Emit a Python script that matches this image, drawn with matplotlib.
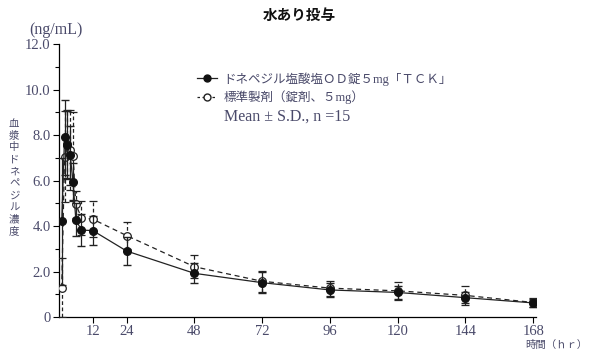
import numpy as np
import matplotlib.pyplot as plt
from matplotlib.lines import Line2D

plt.rcParams['font.family'] = ['Liberation Serif', 'Noto Sans CJK JP', 'DejaVu Sans']

# sampling times (hr)
times = [1, 2, 3, 4, 5, 6, 8, 12, 24, 48, 72, 96, 120, 144, 168]

# ドネペジル塩酸塩OD錠 5mg「TCK」
test_mean = [4.2, 7.9, 7.55, 7.1, 5.95, 4.27, 3.82, 3.8, 2.9, 1.92, 1.51, 1.19, 1.08, 0.85, 0.62]
test_sd = [2.8, 1.65, 1.5, 1.3, 0.8, 0.72, 0.7, 0.65, 0.6, 0.44, 0.45, 0.3, 0.27, 0.25, 0.18]

# 標準製剤 (錠剤、5mg)
ref_mean = [1.28, 7.05, 7.6, 7.35, 7.07, 4.95, 4.36, 4.3, 3.58, 2.21, 1.57, 1.27, 1.15, 0.95, 0.64]
ref_sd = [1.3, 2.0, 1.5, 1.75, 1.95, 0.6, 0.75, 0.8, 0.6, 0.5, 0.45, 0.33, 0.4, 0.43, 0.2]

xticks = [12, 24, 48, 72, 96, 120, 144, 168]
yticks = [0, 2, 4, 6, 8, 10, 12]
ylabels = ['0', '2.0', '4.0', '6.0', '8.0', '10.0', '12.0']

tick_col = '#4a4a6a'

fig = plt.figure(figsize=(5.89, 3.58), dpi=100)
ax = fig.add_axes([0.100, 0.1145, 0.81, 0.7625])

# standard formulation: open circles, dashed line and dashed error bars
eb = ax.errorbar(times, ref_mean, yerr=ref_sd, fmt='o', color='#222222',
                 mfc='white', mec='#222222', ms=5.5, mew=0.9, capsize=3, elinewidth=0.9,
                 ls=(0, (4, 3)), lw=0.9, zorder=3)
eb[2][0].set_linestyle((0, (3, 2)))
# test formulation: filled circles, solid line
ax.errorbar(times, test_mean, yerr=test_sd, fmt='o', color='#222222',
            mfc='#111111', mec='#111111', ms=5.5, capsize=3, elinewidth=0.9,
            ls='-', lw=0.9, zorder=4)

ax.set_xlim(0, 169)
ax.set_ylim(0, 12)
ax.set_xticks(xticks)
ax.set_xticklabels([str(t) for t in xticks], color=tick_col, fontsize=10.5)
ax.set_yticks(yticks)
ax.set_yticklabels(ylabels, color=tick_col, fontsize=10.5)
ax.set_yticks([1, 3, 5, 7, 9, 11], minor=True)
ax.tick_params(axis='both', direction='out', length=4, width=0.8, pad=2)
ax.tick_params(axis='y', which='minor', length=3, width=0.8)
for s in ['top', 'right']:
    ax.spines[s].set_visible(False)
ax.spines['left'].set_linewidth(0.9)
ax.spines['bottom'].set_linewidth(0.9)

fig.text(0.508, 0.958, '水あり投与', ha='center', va='center', fontsize=10.5,
         fontweight='bold', family=['Noto Sans CJK JP'], color='#111111')
fig.text(0.050, 0.917, '(ng/mL)', ha='left', va='center', fontsize=11.5, color=tick_col)

# vertical y label, one character per row
ylab = '血漿中ドネペジル濃度'
for i, ch in enumerate(ylab):
    fig.text(0.024, 0.655 - i * 0.0335, ch, ha='center', va='center', fontsize=7.5,
             family=['Noto Sans CJK JP'], color=tick_col)

fig.text(0.892, 0.037, '時間（ｈｒ）', ha='left', va='center', fontsize=7.5,
         family=['Noto Sans CJK JP'], color=tick_col)

handles = [
    Line2D([], [], color='#222222', lw=0.9, marker='o', ms=5, mfc='#111111', mec='#111111'),
    Line2D([], [], color='#222222', lw=0.9, ls=(0, (2, 2)), marker='o', ms=5, mfc='white', mec='#222222'),
    Line2D([], [], color='none'),
]
labels = ['ドネペジル塩酸塩ＯＤ錠５mg「ＴＣＫ」', '標準製剤（錠剤、５mg）', 'Mean ± S.D., n =15']
leg = ax.legend(handles, labels, loc='upper left', bbox_to_anchor=(0.28, 0.915),
                frameon=False, fontsize=9, handlelength=1.6, handletextpad=0.5,
                labelspacing=0.35, borderaxespad=0)
for t in leg.get_texts():
    t.set_color(tick_col)
    t.set_family(['Liberation Serif', 'Noto Sans CJK JP'])
leg.get_texts()[2].set_fontsize(11.5)

fig.savefig('out.png', dpi=100)
